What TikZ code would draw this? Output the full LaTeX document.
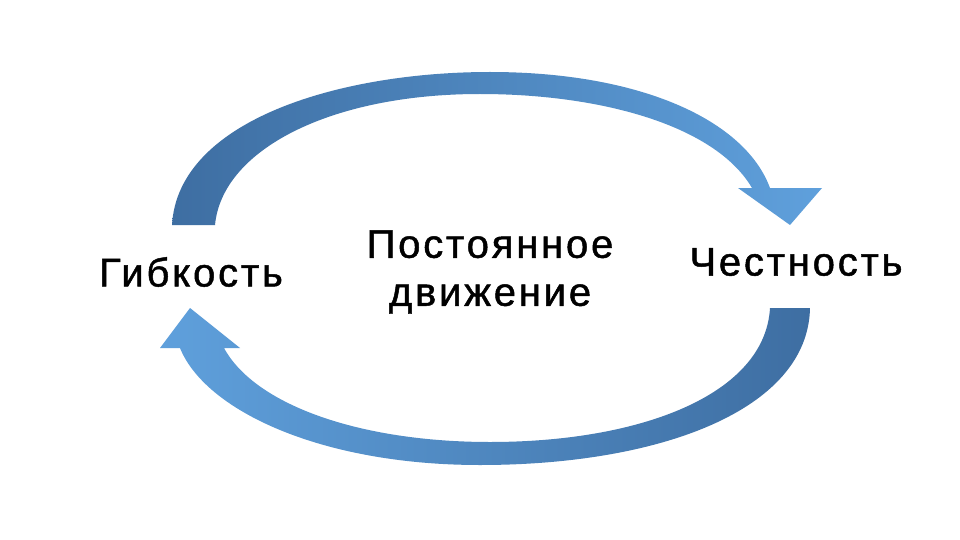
\documentclass[tikz,border=0pt]{standalone}
\usepackage{fontspec}
\setmainfont{Liberation Sans}[LetterSpace=7,FakeBold=1.2]
\begin{document}
\begin{tikzpicture}[x=1pt,y=-1pt,
  lbl/.style={font=\fontsize{40}{48}\selectfont, align=center, text=black}]
\useasboundingbox[fill=white] (0,0) rectangle (960,540);
% top arrow
\shade[left color={rgb,255:red,62;green,110;blue,162}, right color={rgb,255:red,95;green,160;blue,220}]
  (172,225) .. controls (178,120) and (340,72) .. (490,72)
  .. controls (640,72) and (745,120) .. (770,188)
  -- (822,188) -- (790,225) -- (738,188) -- (752,188)
  .. controls (715,125) and (600,94) .. (480,94)
  .. controls (330,94) and (222,150) .. (215,225) -- cycle;
% bottom arrow
\shade[right color={rgb,255:red,62;green,110;blue,162}, left color={rgb,255:red,95;green,160;blue,220}]
  (810,308) .. controls (808,410) and (660,465) .. (480,465)
  .. controls (320,465) and (205,410) .. (180,348)
  -- (160,348) -- (190,308) -- (240,348) -- (224,348)
  .. controls (255,405) and (360,442) .. (490,442)
  .. controls (640,442) and (765,395) .. (770,308) -- cycle;
\node[lbl] (g) at (191,272) {Гибкость};
\node[lbl] (p) at (490,272) {Постоянное\\движение};
\node[lbl] (c) at (796,262) {Честность};
\end{tikzpicture}
\end{document}
